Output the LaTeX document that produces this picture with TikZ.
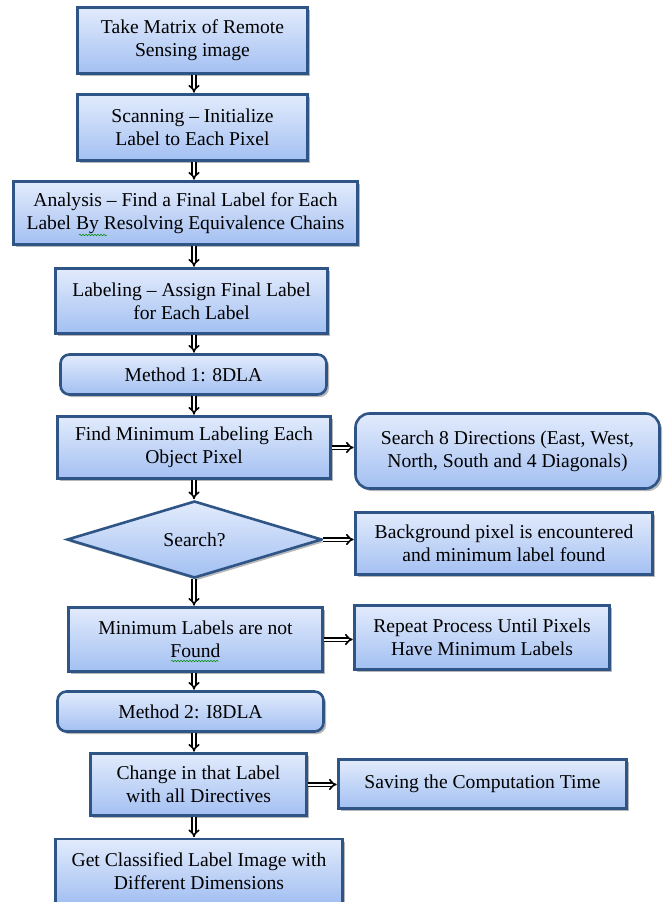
\documentclass[tikz,border=0pt]{standalone}
\usepackage{fontspec}
\setmainfont{Liberation Serif}
\usetikzlibrary{shapes.geometric,shadows,arrows.meta,decorations.pathmorphing}
\definecolor{bord}{HTML}{2F5586}
\definecolor{ftop}{HTML}{E2EBFC}
\definecolor{fbot}{HTML}{A3C0F2}
\begin{document}
\begin{tikzpicture}[x=1pt,y=-1pt,
 box/.style={draw=bord, line width=2.6pt, top color=ftop, bottom color=fbot,
   drop shadow={shadow xshift=2.5pt,shadow yshift=-2.5pt,opacity=0.4,fill=black!70},
   align=center, inner sep=0pt, font=\fontsize{19.6}{23}\selectfont},
 rbox/.style={box, rounded corners=#1},
 arr/.style={draw=black, double=white, line width=1.6pt, double distance=2pt, -{Implies[length=5pt]}, shorten >=0.5pt},
 squig/.style={draw=green!55!black, line width=0.5pt, decorate, decoration={snake, amplitude=0.8pt, segment length=3pt}}
]
\useasboundingbox (0,0) rectangle (665,902);
\node[box, minimum width=230pt, minimum height=66pt] (n1) at (192.5,40.5) {Take Matrix of Remote\\Sensing image};
\node[box, minimum width=230pt, minimum height=66pt] (n2) at (192.5,127.5) {Scanning -- Initialize\\Label to Each Pixel};
\node[box, minimum width=344pt, minimum height=63pt] (n3) at (185.5,213) {Analysis -- Find a Final Label for Each\\Label By Resolving Equivalence Chains};
\node[box, minimum width=272pt, minimum height=65pt] (n4) at (191.5,301) {Labeling -- Assign Final Label\\for Each Label};
\node[rbox=9pt, minimum width=266pt, minimum height=40pt] (m1) at (193.5,374.5) {Method 1: 8DLA};
\node[box, minimum width=273pt, minimum height=62pt] (fm) at (194,447.5) {Find Minimum Labeling Each\\Object Pixel};
\node[rbox=14pt, minimum width=304pt, minimum height=75pt] (s8) at (507.5,451) {Search 8 Directions (East, West,\\North, South and 4 Diagonals)};
\node[box, shape=diamond, aspect=3.3, minimum width=255pt, minimum height=77pt] (d) at (194.5,539.5) {Search?};
\node[box, minimum width=297pt, minimum height=62pt] (bg) at (504,543.5) {Background pixel is encountered\\and minimum label found};
\node[box, minimum width=254pt, minimum height=64pt] (ml) at (195.5,639.5) {Minimum Labels are not\\Found};
\node[box, minimum width=255pt, minimum height=64pt] (rp) at (482,637.5) {Repeat Process Until Pixels\\Have Minimum Labels};
\node[rbox=9pt, minimum width=266pt, minimum height=40pt] (m2) at (190.5,711.5) {Method 2: I8DLA};
\node[box, minimum width=216pt, minimum height=62pt] (ch) at (198.5,784.5) {Change in that Label\\with all Directives};
\node[box, minimum width=288pt, minimum height=49pt] (sv) at (482.5,784) {Saving the Computation Time};
\node[box, minimum width=287pt, minimum height=64pt] (gc) at (199,871) {Get Classified Label Image with\\Different Dimensions};
\coordinate (ax) at (194,0);
\draw[arr] (n1.south -| ax) -- (n2.north -| ax);
\draw[arr] (n2.south -| ax) -- (n3.north -| ax);
\draw[arr] (n3.south -| ax) -- (n4.north -| ax);
\draw[arr] (n4.south -| ax) -- (m1.north -| ax);
\draw[arr] (m1.south -| ax) -- (fm.north -| ax);
\draw[arr] (fm.south -| ax) -- (d.north -| ax);
\draw[arr] (d.south -| ax) -- (ml.north -| ax);
\draw[arr] (ml.south -| ax) -- (m2.north -| ax);
\draw[arr] (m2.south -| ax) -- (ch.north -| ax);
\draw[arr] (ch.south -| ax) -- (gc.north -| ax);
\draw[arr] (fm.east) -- (fm.east -| s8.west);
\draw[arr] (d.east) -- (d.east -| bg.west);
\draw[arr] (ml.east) -- (ml.east -| rp.west);
\draw[arr] (ch.east) -- (ch.east -| sv.west);
\draw[squig] (79,235) -- (107,235);
\draw[squig] (171,661) -- (219,661);
\end{tikzpicture}
\end{document}
